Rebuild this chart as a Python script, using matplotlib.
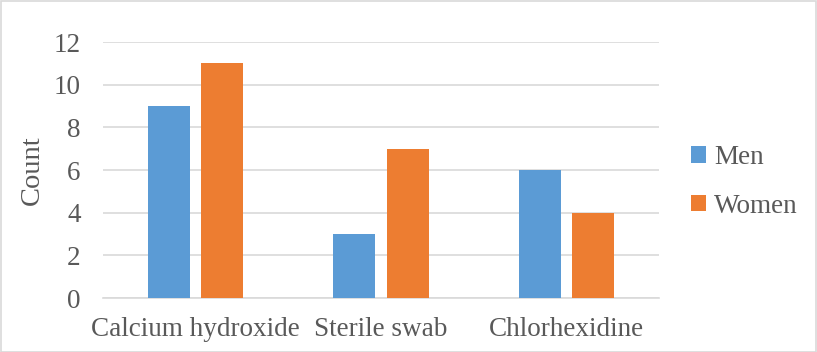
import matplotlib
matplotlib.use("Agg")
import matplotlib.pyplot as plt
import numpy as np
from matplotlib.patches import Rectangle

categories = ["Calcium hydroxide", "Sterile swab", "Chlorhexidine"]
men = [9, 3, 6]
women = [11, 7, 4]
series_names = ["Men", "Women"]
yticks = [0, 2, 4, 6, 8, 10, 12]

BLUE = "#5B9BD5"
ORANGE = "#ED7D31"
TEXT = "#595959"
GRID = "#D9D9D9"

plt.rcParams["font.family"] = ["Liberation Serif", "DejaVu Serif"]

fig = plt.figure(figsize=(8.17, 3.52), dpi=100)
ax = fig.add_axes([103 / 817, 1 - 298 / 352, (659 - 103) / 817, (298 - 42) / 352])

x = np.arange(len(categories))
w = 0.227
off = 0.144
b1 = ax.bar(x - off, men, w, color=BLUE, label=series_names[0], zorder=3)
b2 = ax.bar(x + off, women, w, color=ORANGE, label=series_names[1], zorder=3)

ax.set_xlim(-0.5, len(categories) - 0.5)
ax.set_ylim(0, 12)
ax.set_yticks(yticks)
ax.set_xticks(x)
ax.set_xticklabels(categories)
ax.yaxis.grid(True, color=GRID, linewidth=1.2, zorder=0)
ax.tick_params(axis="both", length=0, labelsize=19.5, colors=TEXT)
ax.tick_params(axis="y", pad=16)
ax.tick_params(axis="x", pad=14)
for s in ["top", "right", "left"]:
    ax.spines[s].set_visible(False)
ax.spines["bottom"].set_color(GRID)
ax.spines["bottom"].set_linewidth(1.2)
ax.set_ylabel("Count", fontsize=20.5, color=TEXT, labelpad=6)

leg = fig.legend(handles=[b1, b2], labels=series_names, loc="center left",
                 bbox_to_anchor=(691 / 817, 1 - 182 / 352), frameon=False,
                 borderpad=0, borderaxespad=0,
                 fontsize=19.5, labelcolor=TEXT, handlelength=0.55, handleheight=0.55,
                 handletextpad=0.3, labelspacing=0.88)

fig.patches.append(Rectangle((0.5 / 817, 0.5 / 352), 815.5 / 817, 350.5 / 352,
                             transform=fig.transFigure, fill=False,
                             edgecolor=GRID, linewidth=1.2))

fig.savefig("out.png", dpi=100)
